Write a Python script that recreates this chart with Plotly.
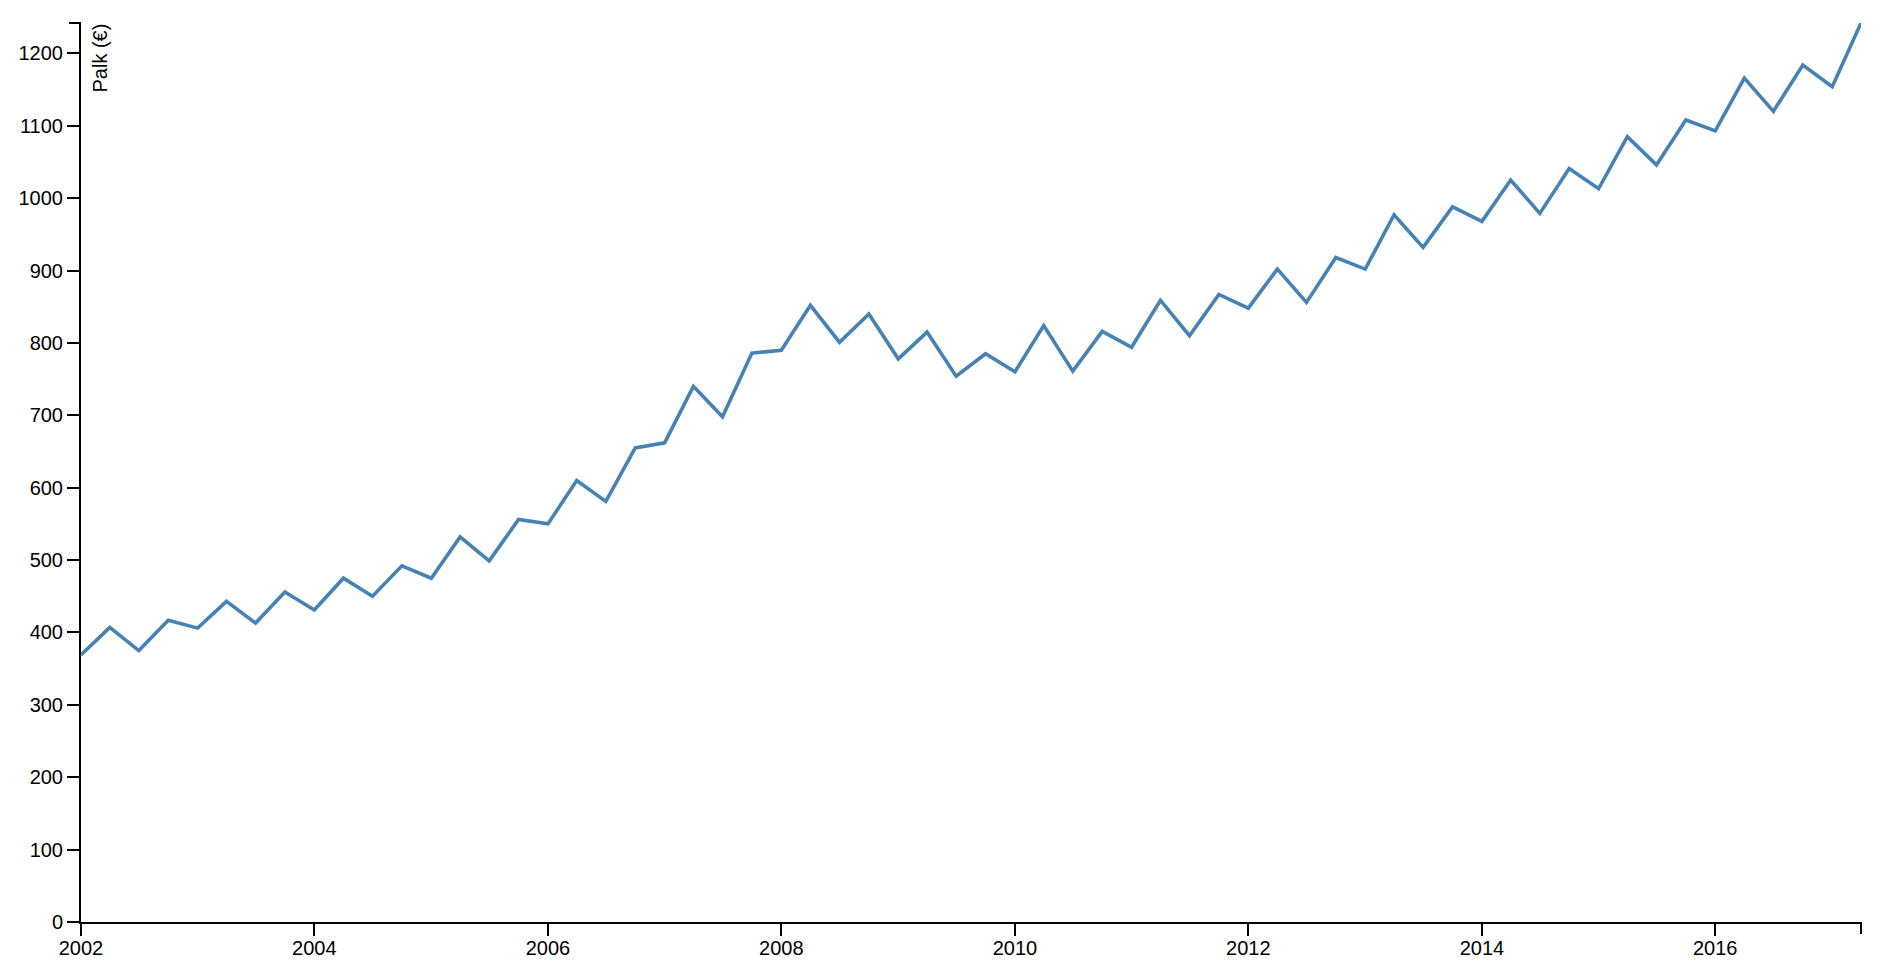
import plotly.graph_objects as go
import pandas as pd

# Quarterly dates 2002Q1 .. 2017Q2
dates = pd.date_range("2002-01-01", periods=62, freq="QS").strftime("%Y-%m-%d").tolist()
values = [369, 407, 375, 417, 406, 443, 413, 456, 431, 475, 450, 492, 475, 532, 499, 556,
          550, 610, 581, 655, 662, 740, 698, 786, 790, 852, 801, 840, 778, 815, 754, 785,
          760, 824, 761, 816, 794, 859, 810, 867, 848, 902, 856, 918, 902, 977, 932, 988,
          968, 1025, 979, 1041, 1013, 1085, 1046, 1108, 1093, 1166, 1120, 1184, 1154, 1242]
y_label = "Palk (€)"

FONT = "Liberation Sans, Arial, sans-serif"

fig = go.Figure()
fig.add_trace(go.Scatter(x=dates, y=values, mode="lines",
                         line=dict(color="#4682b4", width=3.6), hoverinfo="x+y"))

fig.update_layout(
    width=1891, height=980,
    margin=dict(l=81, r=30, t=23, b=58),
    paper_bgcolor="white", plot_bgcolor="white",
    showlegend=False,
    font=dict(family=FONT, size=20, color="black"),
    xaxis=dict(type="date", range=[dates[0], dates[-1]], tickformat="%Y",
               dtick="M24", tick0="2002-01-01",
               showgrid=False, zeroline=False, showline=True, linecolor="black", linewidth=2,
               ticks="outside", ticklen=12, tickwidth=2, tickcolor="black",
               ticklabelstandoff=-5,
               tickfont=dict(family=FONT, size=20, color="black")),
    yaxis=dict(range=[0, max(values)], dtick=100, tick0=0,
               showgrid=False, zeroline=False, showline=True, linecolor="black", linewidth=2,
               ticks="outside", ticklen=12, tickwidth=2, tickcolor="black",
               tickfont=dict(family=FONT, size=20, color="black")),
    shapes=[
        dict(type="line", xref="paper", yref="paper", xsizemode="pixel", xanchor=0,
             x0=-12, x1=0, y0=1, y1=1, line=dict(color="black", width=2)),
        dict(type="line", xref="paper", yref="paper", ysizemode="pixel", yanchor=0,
             y0=0, y1=-12, x0=1, x1=1, line=dict(color="black", width=2)),
    ],
    annotations=[dict(text=y_label, textangle=-90, xref="paper", yref="paper",
                      x=0, y=1, xanchor="left", yanchor="top", xshift=5, yshift=1,
                      showarrow=False, font=dict(family=FONT, size=20, color="black"))],
)

fig.write_html("out.html")
